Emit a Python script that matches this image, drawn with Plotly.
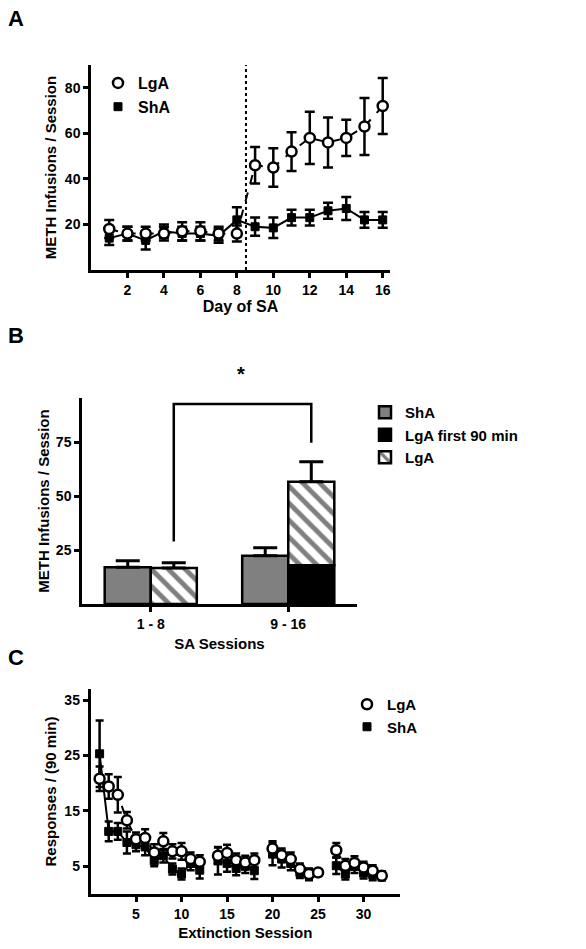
import plotly.graph_objects as go

# ---------------- Panel A data ----------------
days = list(range(1, 17))
lga_a = [18, 16, 16, 16, 17, 17, 16, 16, 46, 45, 52, 58, 56, 58, 63, 72]
lga_a_err = [4, 3, 3, 3, 4, 4, 3, 3.5, 8, 8.5, 8.5, 11.5, 11, 8, 12.5, 12.3]
sha_a = [14, 16, 13, 17, 16, 16, 15, 22, 19, 18.5, 23, 23, 26, 27, 22, 22]
sha_a_err = [3, 3, 4, 3, 3, 3, 3, 5.5, 4, 4.5, 3.5, 3.5, 3.5, 5, 3.5, 3.5]
divider_day = 8.5

# ---------------- Panel B data ----------------
b_categories = ["1 - 8", "9 - 16"]
sha_b = [17.0, 22.4]
sha_b_err = [3.0, 3.7]
lga_first90_b = [None, 18.0]
lga_first90_err = [0, 2.7]
lga_total_b = [16.7, 56.6]
lga_total_err = [2.4, 9.3]
lga_base_b = [0, 18.0]

# ---------------- Panel C data ----------------
sessions = list(range(1, 33))
lga_c = [20.8, 19.4, 17.9, 13.3, 9.9, 10.1, 7.5, 9.5, 7.7, 7.7, 6.3, 5.8, None,
         6.9, 7.4, 6.1, 5.7, 6.1, None, 8.2, 7.0, 6.3, 4.5, 3.6, 3.9, None,
         7.9, 5.1, 5.6, 4.8, 4.2, 3.3]
lga_c_err = [2.2, 2.2, 3.2, 1.5, 1.2, 1.6, 1.5, 1.5, 1.3, 1.5, 1.2, 1.2, None,
             1.5, 1.5, 1.2, 1.2, 1.2, None, 1.3, 1.2, 1.2, 1.0, 1.0, 0.5, None,
             1.3, 1.2, 1.2, 1.0, 1.0, 0.8]
sha_c = [25.3, 11.3, 11.3, 9.3, 8.9, 8.5, 6.0, 6.9, 4.5, 3.6, 5.5, 4.3, None,
         6.0, 5.5, 4.6, 5.0, 4.2, None, 7.2, 6.3, 5.5, 3.9, 3.5, 3.8, None,
         5.1, 3.6, 5.0, 3.8, 3.5, 3.3]
sha_c_err = [6.0, 1.8, 1.5, 2.0, 1.2, 1.5, 1.0, 1.2, 1.0, 1.0, 1.2, 1.5, None,
             2.5, 1.5, 1.2, 1.2, 1.5, None, 2.0, 1.5, 1.2, 1.0, 1.0, 0.5, None,
             1.5, 1.0, 1.2, 1.0, 1.0, 0.8]

FONT = "Arial, Liberation Sans, sans-serif"
LW = 2.5

fig = go.Figure()

def err(arr, width=5):
    return dict(type="data", array=arr, thickness=LW, width=width, color="black")

circle = dict(symbol="circle", size=10, color="white", line=dict(color="black", width=2.5))
square = dict(symbol="square", size=8, color="black", line=dict(color="black", width=1))

# Panel A
fig.add_trace(go.Scatter(x=days, y=sha_a, mode="lines+markers", marker=square,
                         line=dict(color="black", width=2), error_y=err(sha_a_err),
                         showlegend=False, xaxis="x", yaxis="y"))
fig.add_trace(go.Scatter(x=days, y=lga_a, mode="lines+markers", marker=circle,
                         line=dict(color="black", width=2, dash="dash"), error_y=err(lga_a_err),
                         showlegend=False, xaxis="x", yaxis="y"))
fig.add_trace(go.Scatter(x=[None], y=[None], mode="markers", marker=circle, name="LgA",
                         legend="legend", xaxis="x", yaxis="y"))
fig.add_trace(go.Scatter(x=[None], y=[None], mode="markers", marker=square, name="ShA",
                         legend="legend", xaxis="x", yaxis="y"))

# Panel B
fig.add_trace(go.Bar(x=b_categories, y=sha_b, name="ShA", offsetgroup="1",
                     marker=dict(color="#808080", line=dict(color="black", width=LW)),
                     error_y=dict(type="data", symmetric=False, array=sha_b_err, arrayminus=[0, 0],
                                  thickness=3, width=12, color="black"),
                     legend="legend2", xaxis="x2", yaxis="y2"))
fig.add_trace(go.Bar(x=b_categories, y=lga_first90_b, name="LgA first 90 min", offsetgroup="2",
                     marker=dict(color="black", line=dict(color="black", width=LW)),
                     error_y=dict(type="data", symmetric=False, array=lga_first90_err, arrayminus=[0, 0],
                                  thickness=3, width=12, color="black"),
                     legend="legend2", xaxis="x2", yaxis="y2"))
fig.add_trace(go.Bar(x=b_categories, y=[t - b for t, b in zip(lga_total_b, lga_base_b)],
                     base=lga_base_b, name="LgA", offsetgroup="2",
                     marker=dict(color="white", line=dict(color="black", width=LW),
                                 pattern=dict(shape="\\", fgcolor="black", bgcolor="white",
                                              size=12, solidity=0.4)),
                     error_y=dict(type="data", symmetric=False, array=lga_total_err, arrayminus=[0, 0],
                                  thickness=3, width=12, color="black"),
                     legend="legend2", xaxis="x2", yaxis="y2"))

# Panel C
fig.add_trace(go.Scatter(x=sessions, y=sha_c, mode="lines+markers", marker=square,
                         line=dict(color="black", width=2), error_y=err(sha_c_err, 4),
                         showlegend=False, xaxis="x3", yaxis="y3"))
fig.add_trace(go.Scatter(x=sessions, y=lga_c, mode="lines+markers", marker=circle,
                         line=dict(color="black", width=2, dash="dash"), error_y=err(lga_c_err, 4),
                         showlegend=False, xaxis="x3", yaxis="y3"))
fig.add_trace(go.Scatter(x=[None], y=[None], mode="markers", marker=circle, name="LgA",
                         legend="legend3", xaxis="x3", yaxis="y3"))
fig.add_trace(go.Scatter(x=[None], y=[None], mode="markers", marker=square, name="ShA",
                         legend="legend3", xaxis="x3", yaxis="y3"))

W, H = 586, 949
def px_x(a, b):
    return [a / W, b / W]
def px_y(top, bottom):
    return [1 - bottom / H, 1 - top / H]

axis_common = dict(showline=True, linecolor="black", linewidth=LW, ticks="outside",
                   ticklen=5, tickwidth=LW, tickcolor="black", showgrid=False, zeroline=False,
                   tickfont=dict(family=FONT, size=14, color="black", weight="bold"))

def title(t, size=15, standoff=6):
    return dict(text=t, standoff=standoff,
                font=dict(family=FONT, size=size, color="black", weight="bold"))

fig.update_layout(
    width=W, height=H, margin=dict(l=0, r=0, t=0, b=0),
    paper_bgcolor="white", plot_bgcolor="white",
    font=dict(family=FONT, color="black"),
    barmode="group", bargap=0.33, bargroupgap=0,
    xaxis=dict(domain=px_x(91, 390), range=[0, 16.4], tickvals=list(range(2, 17, 2)),
               title=title("Day of SA", 16, 3), anchor="y", **axis_common),
    yaxis=dict(domain=px_y(65, 270), range=[0, 90], tickvals=[20, 40, 60, 80],
               title=title("METH Infusions / Session", 15, 5), anchor="x", **axis_common),
    xaxis2=dict(domain=px_x(82, 357), range=[-0.5, 1.5], type="category",
                title=title("SA Sessions", 15, 8), anchor="y2", **axis_common),
    yaxis2=dict(domain=px_y(398, 604), range=[0, 95.4], tickvals=[25, 50, 75],
                title=title("METH Infusions / Session", 15, 3), anchor="x2", **axis_common),
    xaxis3=dict(domain=px_x(90.5, 400), range=[0, 34], tickvals=[5, 10, 15, 20, 25, 30],
                title=title("Extinction Session", 15, 7), anchor="y3", **axis_common),
    yaxis3=dict(domain=px_y(689, 894), range=[0, 37], tickvals=[5, 15, 25, 35],
                title=title("Responses / (90 min)", 15, 5), anchor="x3", **axis_common),
    legend=dict(x=98 / W, y=1 - 66 / H, xanchor="left", yanchor="top", bgcolor="rgba(0,0,0,0)",
                font=dict(family=FONT, size=16, color="black", weight="bold"), tracegroupgap=0),
    legend2=dict(x=365 / W, y=1 - 396 / H, xanchor="left", yanchor="top", bgcolor="rgba(0,0,0,0)",
                 font=dict(family=FONT, size=15, color="black", weight="bold"), tracegroupgap=0,
                 traceorder="normal"),
    legend3=dict(x=347 / W, y=1 - 688 / H, xanchor="left", yanchor="top", bgcolor="rgba(0,0,0,0)",
                 font=dict(family=FONT, size=15, color="black", weight="bold"), tracegroupgap=0),
)

# Divider line in panel A
fig.add_shape(type="line", xref="x", yref="y", x0=divider_day, x1=divider_day, y0=0, y1=90,
              line=dict(color="black", width=2, dash="dot"))

# Significance bracket in panel B
br_left, br_right = 0.1675, 1.1675
fig.add_shape(type="path", xref="x2", yref="y2",
              path=f"M {br_left},28.9 L {br_left},92.6 L {br_right},92.6 L {br_right},74.7",
              line=dict(color="black", width=LW))
fig.add_annotation(x=241 / W, y=1 - 374 / H, xref="paper", yref="paper", text="*",
                   showarrow=False, xanchor="center", yanchor="middle",
                   font=dict(family=FONT, size=20, color="black", weight="bold"))

for letter, yy in [("A", 19), ("B", 335), ("C", 657)]:
    fig.add_annotation(x=16 / W, y=1 - yy / H, xref="paper", yref="paper", text=letter,
                       showarrow=False, xanchor="center", yanchor="middle",
                       font=dict(family=FONT, size=22, color="black", weight="bold"))

fig.write_html("out.html", config={"displayModeBar": False},
               post_script="document.body.style.margin='0';")
